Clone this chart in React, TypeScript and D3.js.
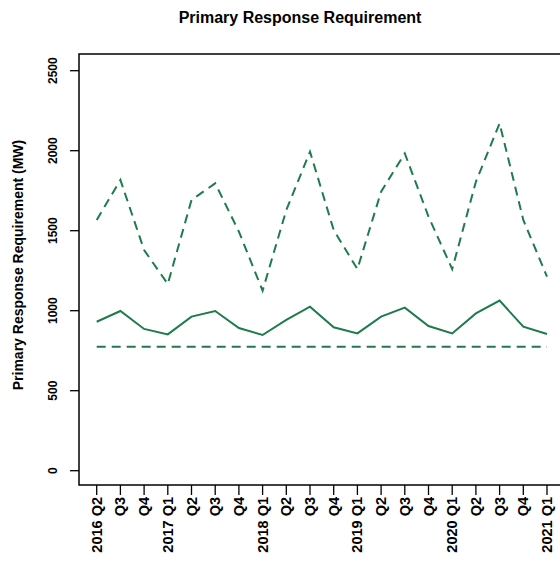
import React from "react";
import * as d3 from "d3";

const quarters = [
  "2016 Q2", "Q3", "Q4", "2017 Q1", "Q2", "Q3", "Q4", "2018 Q1", "Q2", "Q3",
  "Q4", "2019 Q1", "Q2", "Q3", "Q4", "2020 Q1", "Q2", "Q3", "Q4", "2021 Q1",
];
const requirement = [
  931, 998, 886, 852, 963, 998, 892, 848, 942, 1025,
  896, 858, 963, 1019, 904, 858, 983, 1063, 900, 854,
];
const upperRange = [
  1567, 1817, 1379, 1167, 1692, 1796, 1494, 1125, 1629, 1994,
  1504, 1260, 1744, 1983, 1588, 1260, 1806, 2171, 1567, 1213,
];
const lowerRange = [
  775, 775, 775, 775, 775, 775, 775, 775, 775, 775,
  775, 775, 775, 775, 775, 775, 775, 775, 775, 775,
];
const yTicks = [0, 500, 1000, 1500, 2000, 2500];

const W = 560;
const H = 565;
const box = { left: 79, top: 54, right: 575, bottom: 485 };
const green = "#1e7b4b";
const font = "'Liberation Sans', Arial, sans-serif";

export default function App() {
  const x = d3.scaleLinear().domain([0, quarters.length - 1]).range([96.7, 547]);
  const y = d3.scaleLinear().domain([0, 2500]).range([470.7, 70.7]);
  const line = d3
    .line<number>()
    .x((_, i) => x(i))
    .y((d) => y(d));

  return (
    <svg
      width={W}
      height={H}
      style={{ position: "absolute", left: 0, top: 0, background: "#fff" }}
      fontFamily={font}
    >
      <rect x={0} y={0} width={W} height={H} fill="#fff" />
      <text x={300} y={17} dy="0.35em" textAnchor="middle" fontSize={16} fontWeight="bold">
        Primary Response Requirement
      </text>

      {/* data */}
      <path d={line(upperRange) || ""} fill="none" stroke={green} strokeWidth={2} strokeDasharray="9,6" />
      <path d={line(requirement) || ""} fill="none" stroke={green} strokeWidth={2} />
      <path d={line(lowerRange) || ""} fill="none" stroke={green} strokeWidth={2} strokeDasharray="9,6" />

      {/* box */}
      <rect
        x={box.left}
        y={box.top}
        width={box.right - box.left}
        height={box.bottom - box.top}
        fill="none"
        stroke="#000"
        strokeWidth={1.5}
      />

      {/* y axis */}
      {yTicks.map((t) => (
        <g key={t}>
          <line x1={70} x2={box.left} y1={y(t)} y2={y(t)} stroke="#000" strokeWidth={1.3} />
          <text
            transform={`translate(53,${y(t)}) rotate(-90)`}
            dy="0.35em"
            textAnchor="middle"
            fontSize={12}
            fontWeight="bold"
          >
            {t}
          </text>
        </g>
      ))}
      <text
        transform={`translate(18,265) rotate(-90)`}
        dy="0.35em"
        textAnchor="middle"
        fontSize={14}
        fontWeight="bold"
      >
        Primary Response Requirement (MW)
      </text>

      {/* x axis */}
      {quarters.map((q, i) => (
        <g key={i}>
          <line x1={x(i)} x2={x(i)} y1={box.bottom} y2={495} stroke="#000" strokeWidth={1.3} />
          <text
            transform={`translate(${x(i)},497) rotate(-90)`}
            dy="0.35em"
            textAnchor="end"
            fontSize={14.5}
            fontWeight="bold"
          >
            {q}
          </text>
        </g>
      ))}
    </svg>
  );
}
